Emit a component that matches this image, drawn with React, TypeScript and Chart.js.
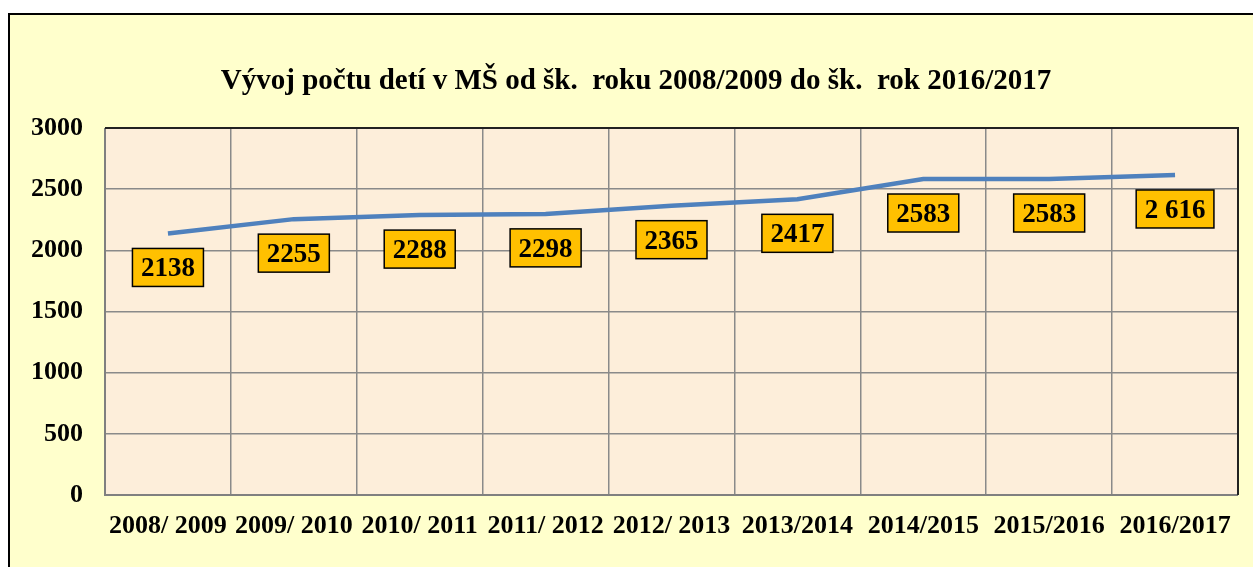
import React, { useEffect, useRef } from "react";
import { Chart, registerables } from "chart.js";

Chart.register(...registerables);

const titleText = "Vývoj počtu detí v MŠ od šk.  roku 2008/2009 do šk.  rok 2016/2017";
const categories = [
  "2008/ 2009",
  "2009/ 2010",
  "2010/ 2011",
  "2011/ 2012",
  "2012/ 2013",
  "2013/2014",
  "2014/2015",
  "2015/2016",
  "2016/2017",
];
const values = [2138, 2255, 2288, 2298, 2365, 2417, 2583, 2583, 2616];
const valueLabels = ["2138", "2255", "2288", "2298", "2365", "2417", "2583", "2583", "2 616"];
const yTicks = [0, 500, 1000, 1500, 2000, 2500, 3000];

const FONT = "'Liberation Serif', 'Times New Roman', serif";

const decorPlugin = {
  id: "decor",
  beforeDraw(chart: any) {
    const { ctx, chartArea } = chart;
    ctx.save();
    ctx.fillStyle = "#ffffff";
    ctx.fillRect(0, 0, chart.width, chart.height);
    ctx.fillStyle = "#FFFFCC";
    ctx.fillRect(9, 14, chart.width, chart.height);
    ctx.strokeStyle = "#000000";
    ctx.lineWidth = 2;
    ctx.strokeRect(9, 14, chart.width + 10, chart.height + 10);
    ctx.fillStyle = "#FDEEDA";
    ctx.fillRect(chartArea.left, chartArea.top, chartArea.right - chartArea.left, chartArea.bottom - chartArea.top);
    ctx.fillStyle = "#000";
    ctx.font = `bold 29px ${FONT}`;
    ctx.textAlign = "center";
    ctx.textBaseline = "alphabetic";
    ctx.fillText(titleText, 636, 89);
    ctx.restore();
  },
  afterDatasetsDraw(chart: any) {
    const { ctx, chartArea } = chart;
    ctx.save();
    ctx.lineWidth = 2;
    ctx.strokeStyle = "#808080";
    ctx.beginPath();
    ctx.moveTo(chartArea.left, chartArea.top);
    ctx.lineTo(chartArea.left, chartArea.bottom);
    ctx.lineTo(chartArea.right, chartArea.bottom);
    ctx.stroke();
    ctx.strokeStyle = "#222";
    ctx.beginPath();
    ctx.moveTo(chartArea.left, chartArea.top);
    ctx.lineTo(chartArea.right, chartArea.top);
    ctx.lineTo(chartArea.right, chartArea.bottom);
    ctx.stroke();
    const meta = chart.getDatasetMeta(0);
    ctx.font = `bold 27px ${FONT}`;
    ctx.textAlign = "center";
    ctx.textBaseline = "middle";
    meta.data.forEach((pt: any, i: number) => {
      const label = valueLabels[i];
      const w = ctx.measureText(label).width + 17;
      const h = 38;
      const cx = pt.x;
      const cy = pt.y + 34;
      ctx.fillStyle = "#FFC000";
      ctx.fillRect(cx - w / 2, cy - h / 2, w, h);
      ctx.strokeStyle = "#000";
      ctx.lineWidth = 1.5;
      ctx.strokeRect(cx - w / 2, cy - h / 2, w, h);
      ctx.fillStyle = "#000";
      ctx.fillText(label, cx, cy + 2);
    });
    ctx.restore();
  },
};

export default function App() {
  const ref = useRef<HTMLCanvasElement>(null);
  useEffect(() => {
    if (!ref.current) return;
    const chart = new Chart(ref.current, {
      type: "line",
      data: {
        labels: categories,
        datasets: [
          {
            data: values,
            borderColor: "#4F81BD",
            borderWidth: 4.5,
            pointRadius: 0,
            tension: 0,
            fill: false,
          },
        ],
      },
      options: {
        responsive: false,
        animation: false,
        layout: { padding: { top: 128, right: 15, left: 0, bottom: 0 } },
        plugins: {
          legend: { display: false },
          title: { display: false },
          tooltip: { enabled: false },
        },
        scales: {
          x: {
            offset: true,
            grid: { offset: true, color: "#8A8A8A", lineWidth: 1.5, drawTicks: false },
            border: { display: false },
            ticks: {
              color: "#000",
              font: { family: FONT, size: 26, weight: "bold" },
              padding: 16,
              maxRotation: 0,
              autoSkip: false,
            },
            afterFit: (s: any) => {
              s.height = 72;
            },
          },
          y: {
            min: 0,
            max: 3000,
            afterBuildTicks: (s: any) => {
              s.ticks = yTicks.map((v) => ({ value: v }));
            },
            grid: { color: "#8A8A8A", lineWidth: 1.5, drawTicks: false },
            border: { display: false },
            ticks: {
              color: "#000",
              font: { family: FONT, size: 26, weight: "bold" },
              padding: 22,
              callback: (v: any) => String(v),
            },
            afterFit: (s: any) => {
              s.width = 105;
            },
          },
        },
      },
      plugins: [decorPlugin],
    });
    return () => chart.destroy();
  }, []);
  return (
    <div style={{ position: "absolute", left: 0, top: 0, width: 1253, height: 567 }}>
      <canvas ref={ref} width={1253} height={567} style={{ width: 1253, height: 567, display: "block" }} />
    </div>
  );
}
